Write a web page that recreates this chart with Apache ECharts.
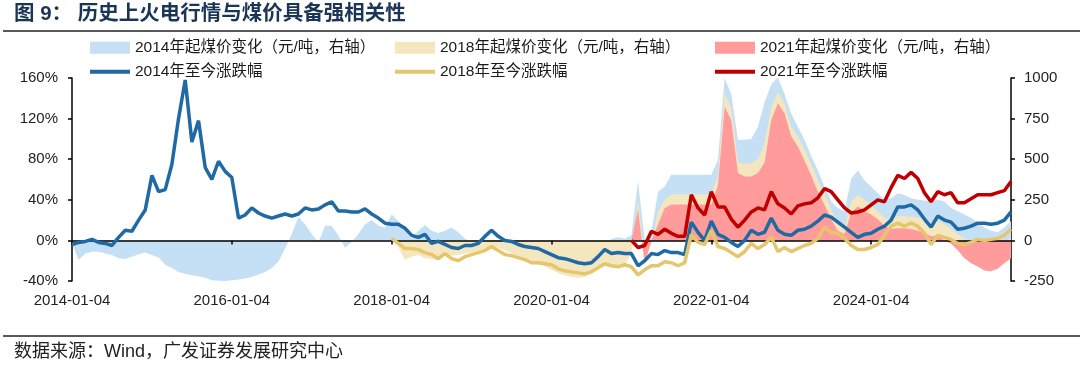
<!DOCTYPE html>
<html>
<head>
<meta charset="utf-8">
<script src="https://cdn.jsdelivr.net/npm/echarts@6/dist/echarts.min.js"></script>
<style>
html,body{margin:0;padding:0;background:#fff;}
#chart{width:1080px;height:365px;}
</style>
</head>
<body>
<div id="chart"></div>
<script>
// Monthly categories 2014-01-04 … 2025-10-04
const categories = [];
for (let y = 2014; y <= 2025; y++) {
  for (let m = 1; m <= 12; m++) {
    if (y === 2025 && m > 10) break;
    categories.push(y + '-' + String(m).padStart(2, '0') + '-04');
  }
}
const xTickLabels = ['2014-01-04', '2016-01-04', '2018-01-04', '2020-01-04', '2022-01-04', '2024-01-04'];

// 2014年至今涨跌幅 (%), from 2014-01
const line2014 = [
  -4,-2,-1,1,-2,-3,-5,3,10,9,
  20,30,64,48,50,75,120,158,97,118,
  72,60,78,68,62,22,25,32,27,24,
  22,24,26,24,26,32,30,31,35,38,
  29,29,28,28,31,26,22,17,16,16,
  12,5,3,6,-3,-1,-4,-7,-8,-5,
  -5,-3,4,10,4,0,-1,-4,-6,-7,
  -8,-11,-14,-17,-18,-20,-22,-23,-22,-16,
  -9,-13,-12,-13,-13,-25,-20,-13,-14,-10,
  -12,-12,-14,18,8,0,19,6,3,-2,
  -6,0,10,6,8,22,10,6,5,10,
  11,14,19,25,23,18,13,8,3,6,
  7,11,14,20,33,33,35,30,21,13,
  24,20,18,11,12,14,17,17,16,17,
  20,28
];
// 2014年起煤价变化 (元/吨), from 2014-01
const area2014 = [
  -20,-120,-80,-70,-70,-80,-90,-110,-115,-100,
  -85,-75,-90,-105,-150,-170,-195,-205,-215,-220,
  -230,-245,-248,-250,-245,-240,-235,-225,-210,-195,
  -170,-130,-50,40,145,100,40,-15,90,90,
  30,-45,-10,40,100,125,90,80,160,120,
  60,10,60,95,60,45,60,80,50,10,
  -10,-20,-10,0,-10,-20,-30,-40,-50,-60,
  -70,-80,-90,-100,-110,-120,-120,-115,-90,-60,
  -40,10,20,10,30,364,0,50,300,330,
  404,404,404,404,404,404,404,497,1000,900,
  619,619,625,700,850,960,1005,900,780,700,
  620,520,430,330,240,200,180,380,430,370,
  330,290,250,260,290,280,260,250,245,240,
  250,240,200,180,160,140,110,80,60,50,
  80,120
];
// 2018年至今涨跌幅 (%), from 2018-01
const line2018 = [
  2,-3,-8,-8,-9,-12,-14,-18,-13,-18,
  -20,-16,-14,-12,-10,-6,-10,-14,-15,-17,
  -19,-22,-22,-23,-24,-28,-30,-31,-32,-33,
  -31,-27,-23,-25,-26,-24,-26,-34,-29,-25,
  -25,-21,-22,-25,-22,6,-2,-4,10,-6,
  -8,-12,-16,-11,-3,-8,-4,3,-11,-7,
  -11,-8,-5,-3,2,13,8,7,2,-5,
  -9,-9,-7,-4,5,14,17,14,17,14,
  7,-4,5,3,1,-3,-4,-2,1,0,
  1,2,5,11
];
// 2018年起煤价变化 (元/吨), from 2018-01
const area2018 = [
  10,-40,-120,-100,-90,-110,-115,-120,-90,-95,
  -90,-80,-75,-65,-55,-30,-45,-60,-80,-95,
  -110,-125,-140,-160,-180,-200,-215,-225,-230,-225,
  -200,-170,-150,-155,-160,-150,-80,251,-120,-20,
  180,250,282,282,282,282,282,282,282,400,
  905,820,480,470,475,500,600,820,915,840,
  700,640,560,470,370,290,190,110,80,240,
  280,250,220,180,140,130,150,150,145,140,
  130,110,120,100,70,40,10,0,-20,-40,
  -60,-50,-20,20
];
// 2021年至今涨跌幅 (%), from 2021-01
const line2021 = [
  0,-7,-5,9,6,11,7,4,4,45,
  32,25,48,33,33,21,13,20,28,32,
  30,48,36,32,26,34,36,37,42,51,
  48,40,32,27,28,30,35,40,38,52,
  64,61,67,61,47,38,48,45,47,37,
  37,41,45,45,45,47,49,58
];
// 2021年起煤价变化 (元/吨), from 2021-01
const area2021 = [
  0,190,-150,0,100,200,221,221,221,221,
  221,221,221,340,823,740,415,394,394,415,
  480,741,844,783,640,578,490,400,300,220,
  130,60,40,170,210,180,160,130,90,70,
  75,75,70,60,45,25,30,0,-20,-60,
  -110,-140,-160,-185,-190,-175,-140,-110
];

function pad(arr, startLabel) {
  const off = categories.indexOf(startLabel);
  return new Array(off).fill(null).concat(arr);
}

const FONT = '"Liberation Sans", Arial, "Noto Sans CJK SC", sans-serif';
const C = {
  a14: '#C5DFF4', a18: '#F4E7C0', a21: '#FF9B9B',
  l14: '#1F6AA5', l18: '#E4C66C', l21: '#C00000'
};
const N = {
  a14: '2014年起煤价变化（元/吨，右轴）',
  a18: '2018年起煤价变化（元/吨，右轴）',
  a21: '2021年起煤价变化（元/吨，右轴）',
  l14: '2014年至今涨跌幅',
  l18: '2018年至今涨跌幅',
  l21: '2021年至今涨跌幅'
};

function areaSeries(name, color, data) {
  return {
    name, type: 'line', yAxisIndex: 1, data, symbol: 'none', z: 1,
    lineStyle: {width: 0}, itemStyle: {color}, areaStyle: {color, opacity: 1},
    emphasis: {disabled: true}
  };
}
function lineSeries(name, color, data) {
  return {
    name, type: 'line', yAxisIndex: 0, data, symbol: 'none', z: 3,
    lineStyle: {width: 3.5, color}, itemStyle: {color},
    emphasis: {disabled: true}
  };
}
function legendItem(name, left, top, isArea) {
  return {
    data: [name], left, top, icon: 'rect', selectedMode: false, padding: 0,
    itemWidth: 40, itemHeight: isArea ? 12 : 4,
    textStyle: {fontSize: 15.5, color: '#1a1a1a', fontFamily: FONT}
  };
}
const axisLineStyle = {color: '#000', width: 1.5};
const tickFn = (idx, val) => xTickLabels.includes(val);

const chart = echarts.init(document.getElementById('chart'));
chart.setOption({
  animation: false,
  textStyle: {fontFamily: FONT},
  title: [
    {text: '图 9： 历史上火电行情与煤价具备强相关性', left: 14, top: 4, padding: 0,
     textStyle: {fontSize: 20.5, fontWeight: 'bold', color: '#1B3557', fontFamily: FONT}},
    {text: '数据来源：Wind，广发证券发展研究中心', left: 14, top: 343, padding: 0,
     textStyle: {fontSize: 18, fontWeight: 'normal', color: '#222', fontFamily: FONT}}
  ],
  graphic: [
    {type: 'line', shape: {x1: 3, y1: 31, x2: 1080, y2: 31}, style: {stroke: '#222', lineWidth: 1.5}},
    {type: 'line', shape: {x1: 3, y1: 336, x2: 1080, y2: 336}, style: {stroke: '#222', lineWidth: 1.5}}
  ],
  legend: [
    legendItem(N.a14, 90, 40, true),
    legendItem(N.a18, 395, 40, true),
    legendItem(N.a21, 715, 40, true),
    legendItem(N.l14, 90, 64, false),
    legendItem(N.l18, 395, 64, false),
    legendItem(N.l21, 715, 64, false)
  ],
  grid: {left: 72, right: 69, top: 78, bottom: 84},
  xAxis: [
    {type: 'category', data: categories, boundaryGap: false, position: 'bottom',
     axisLine: {show: false, onZero: false}, axisTick: {show: false},
     axisLabel: {interval: tickFn, fontSize: 15, color: '#222', margin: 12}},
    {type: 'category', data: categories, boundaryGap: false, position: 'bottom', z: 2,
     axisLine: {show: true, onZero: true, onZeroAxisIndex: 0, lineStyle: axisLineStyle},
     axisTick: {show: true, interval: tickFn, length: 4, lineStyle: axisLineStyle},
     axisLabel: {show: false}}
  ],
  yAxis: [
    {type: 'value', min: -40, max: 160, interval: 40, position: 'left',
     axisLine: {show: true, lineStyle: axisLineStyle},
     axisTick: {show: true, length: 4, lineStyle: axisLineStyle},
     splitLine: {show: false},
     axisLabel: {formatter: '{value}%', fontSize: 15, color: '#222', margin: 14}},
    {type: 'value', min: -250, max: 1000, interval: 250, position: 'right',
     axisLine: {show: true, lineStyle: axisLineStyle},
     axisTick: {show: true, length: 4, lineStyle: axisLineStyle},
     splitLine: {show: false},
     axisLabel: {formatter: (v) => String(v), fontSize: 15, color: '#222', margin: 13}}
  ],
  series: [
    areaSeries(N.a14, C.a14, area2014),
    areaSeries(N.a18, C.a18, pad(area2018, '2018-01-04')),
    areaSeries(N.a21, C.a21, pad(area2021, '2021-01-04')),
    lineSeries(N.l14, C.l14, line2014),
    lineSeries(N.l18, C.l18, pad(line2018, '2018-01-04')),
    lineSeries(N.l21, C.l21, pad(line2021, '2021-01-04'))
  ]
});
</script>
</body>
</html>
